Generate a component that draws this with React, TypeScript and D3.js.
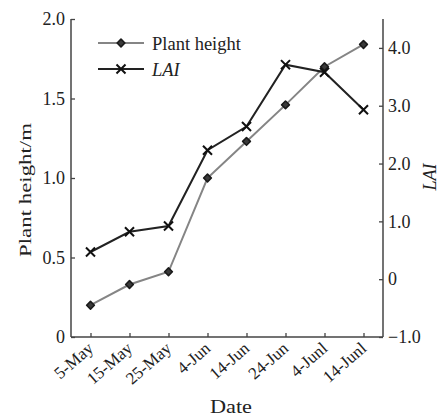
import { useEffect, useRef } from "react";
import * as d3 from "d3";

const dates = ["5-May", "15-May", "25-May", "4-Jun", "14-Jun", "24-Jun", "4-Junl", "14-Junl"];
const plantHeight = [0.2, 0.33, 0.41, 1.0, 1.23, 1.46, 1.7, 1.84];
const lai = [0.47, 0.82, 0.92, 2.23, 2.64, 3.71, 3.58, 2.93];
const leftTicks = [0, 0.5, 1.0, 1.5, 2.0];
const rightTicks = [-1, 0, 1, 2, 3, 4];

const FONT = "'Liberation Serif', 'Times New Roman', serif";

export default function App() {
  const ref = useRef<SVGSVGElement | null>(null);

  useEffect(() => {
    if (!ref.current) return;
    const width = 440;
    const height = 416;
    const margin = { top: 19, right: 57, bottom: 79, left: 71 };

    const svg = d3.select(ref.current).attr("width", width).attr("height", height);
    svg.selectAll("*").remove();

    const x = d3
      .scalePoint<string>()
      .domain(dates)
      .range([margin.left, width - margin.right])
      .padding(0.5);

    const yL = d3.scaleLinear().domain([0, 2]).range([height - margin.bottom, margin.top]);
    const yR = d3.scaleLinear().domain([-1, 4.5]).range([height - margin.bottom, margin.top]);

    const axisColor = "#444";

    /* ---------------- AXES ---------------- */

    const gl = svg
      .append("g")
      .attr("transform", `translate(${margin.left},0)`)
      .call(
        d3.axisLeft(yL)
          .tickValues(leftTicks)
          .tickSize(-4)
          .tickPadding(6)
          .tickFormat(d => (Number(d) === 0 ? "0" : d3.format(".1f")(Number(d))))
      );

    const gr = svg
      .append("g")
      .attr("transform", `translate(${width - margin.right},0)`)
      .call(
        d3.axisRight(yR)
          .tickValues(rightTicks)
          .tickSize(-4)
          .tickPadding(5)
          .tickFormat(d => (Number(d) === 0 ? "0" : d3.format(".1f")(Number(d)).replace("-", "\u2212")))
      );

    const gx = svg
      .append("g")
      .attr("transform", `translate(0,${height - margin.bottom})`)
      .call(d3.axisBottom(x).tickSize(-4).tickSizeOuter(0).tickFormat(() => ""));

    gx.select(".domain").attr("d", `M${margin.left},0H${width - margin.right}`);

    [gl, gr, gx].forEach(g => {
      g.select(".domain").attr("stroke", axisColor).attr("stroke-width", 1.5);
      g.selectAll(".tick line").attr("stroke", axisColor).attr("stroke-width", 1.3);
      g.selectAll(".tick text")
        .attr("font-family", FONT)
        .attr("font-size", 18)
        .attr("fill", "#222");
    });
    gl.select(".domain").attr("d", `M0,${yL(0)}V${margin.top}`);
    gr.select(".domain").attr("d", `M0,${yR(-1)}V${margin.top}`);

    // rotated date labels
    svg.append("g")
      .selectAll("text")
      .data(dates)
      .enter()
      .append("text")
      .attr("transform", d => `translate(${x(d)! + 4},${height - margin.bottom + 13}) rotate(-41)`)
      .attr("text-anchor", "end")
      .attr("font-family", FONT)
      .attr("font-size", 17)
      .attr("fill", "#222")
      .text(d => d);

    /* ---------------- TITLES ---------------- */

    svg.append("text")
      .attr("transform", `translate(31,190) rotate(-90)`)
      .attr("text-anchor", "middle")
      .attr("font-family", FONT)
      .attr("font-size", 17)
      .attr("textLength", 134)
      .attr("lengthAdjust", "spacingAndGlyphs")
      .attr("fill", "#222")
      .text("Plant height/m");

    svg.append("text")
      .attr("transform", `translate(436,177) rotate(-90)`)
      .attr("text-anchor", "middle")
      .attr("font-family", FONT)
      .attr("font-style", "italic")
      .attr("font-size", 18)
      .attr("fill", "#222")
      .text("LAI");

    svg.append("text")
      .attr("x", 231)
      .attr("y", 413)
      .attr("text-anchor", "middle")
      .attr("font-family", FONT)
      .attr("font-size", 18)
      .attr("textLength", 42)
      .attr("lengthAdjust", "spacingAndGlyphs")
      .attr("fill", "#222")
      .text("Date");

    /* ---------------- LINES ---------------- */

    const lineH = d3.line<number>()
      .x((_, i) => x(dates[i])!)
      .y(d => yL(d));

    const lineL = d3.line<number>()
      .x((_, i) => x(dates[i])!)
      .y(d => yR(d));

    svg.append("path")
      .datum(plantHeight)
      .attr("fill", "none")
      .attr("stroke", "#858585")
      .attr("stroke-width", 2)
      .attr("d", lineH);

    svg.append("path")
      .datum(lai)
      .attr("fill", "none")
      .attr("stroke", "#222")
      .attr("stroke-width", 2)
      .attr("d", lineL);

    const diamond = d3.symbol().type(d3.symbolSquare).size(30);
    const cross = d3.symbol().type(d3.symbolX).size(55);

    svg.selectAll(".ph")
      .data(plantHeight)
      .enter()
      .append("path")
      .attr("transform", (d, i) => `translate(${x(dates[i])},${yL(d)}) rotate(45)`)
      .attr("d", diamond()!)
      .attr("fill", "#3a3a3a")
      .attr("stroke", "#1a1a1a")
      .attr("stroke-width", 1.6)
      .attr("stroke-linejoin", "round");

    svg.selectAll(".lai")
      .data(lai)
      .enter()
      .append("path")
      .attr("transform", (d, i) => `translate(${x(dates[i])},${yR(d)})`)
      .attr("d", cross()!)
      .attr("fill", "none")
      .attr("stroke", "#111")
      .attr("stroke-width", 2);

    /* ---------------- LEGEND ---------------- */

    const legend = [
      { label: "Plant height", y: 43, color: "#858585", italic: false },
      { label: "LAI", y: 69, color: "#222", italic: true },
    ];
    legend.forEach(l => {
      svg.append("line")
        .attr("x1", 98).attr("x2", 144)
        .attr("y1", l.y).attr("y2", l.y)
        .attr("stroke", l.color)
        .attr("stroke-width", 2);
      svg.append("path")
        .attr("transform", `translate(121,${l.y})${l.italic ? "" : " rotate(45)"}`)
        .attr("d", l.italic ? cross()! : diamond()!)
        .attr("fill", l.italic ? "none" : "#3a3a3a")
        .attr("stroke", l.italic ? "#111" : "#1a1a1a")
        .attr("stroke-width", l.italic ? 2 : 1.6)
        .attr("stroke-linejoin", "round");
      svg.append("text")
        .attr("x", 152)
        .attr("y", l.y + 7)
        .attr("font-family", FONT)
        .attr("font-style", l.italic ? "italic" : "normal")
        .attr("font-size", 18.5)
        .attr("fill", "#222")
        .text(l.label);
    });
  }, []);

  return (
    <div style={{ position: "absolute", left: 0, top: 0 }}>
      <svg ref={ref} style={{ display: "block", background: "#fff" }} />
    </div>
  );
}
